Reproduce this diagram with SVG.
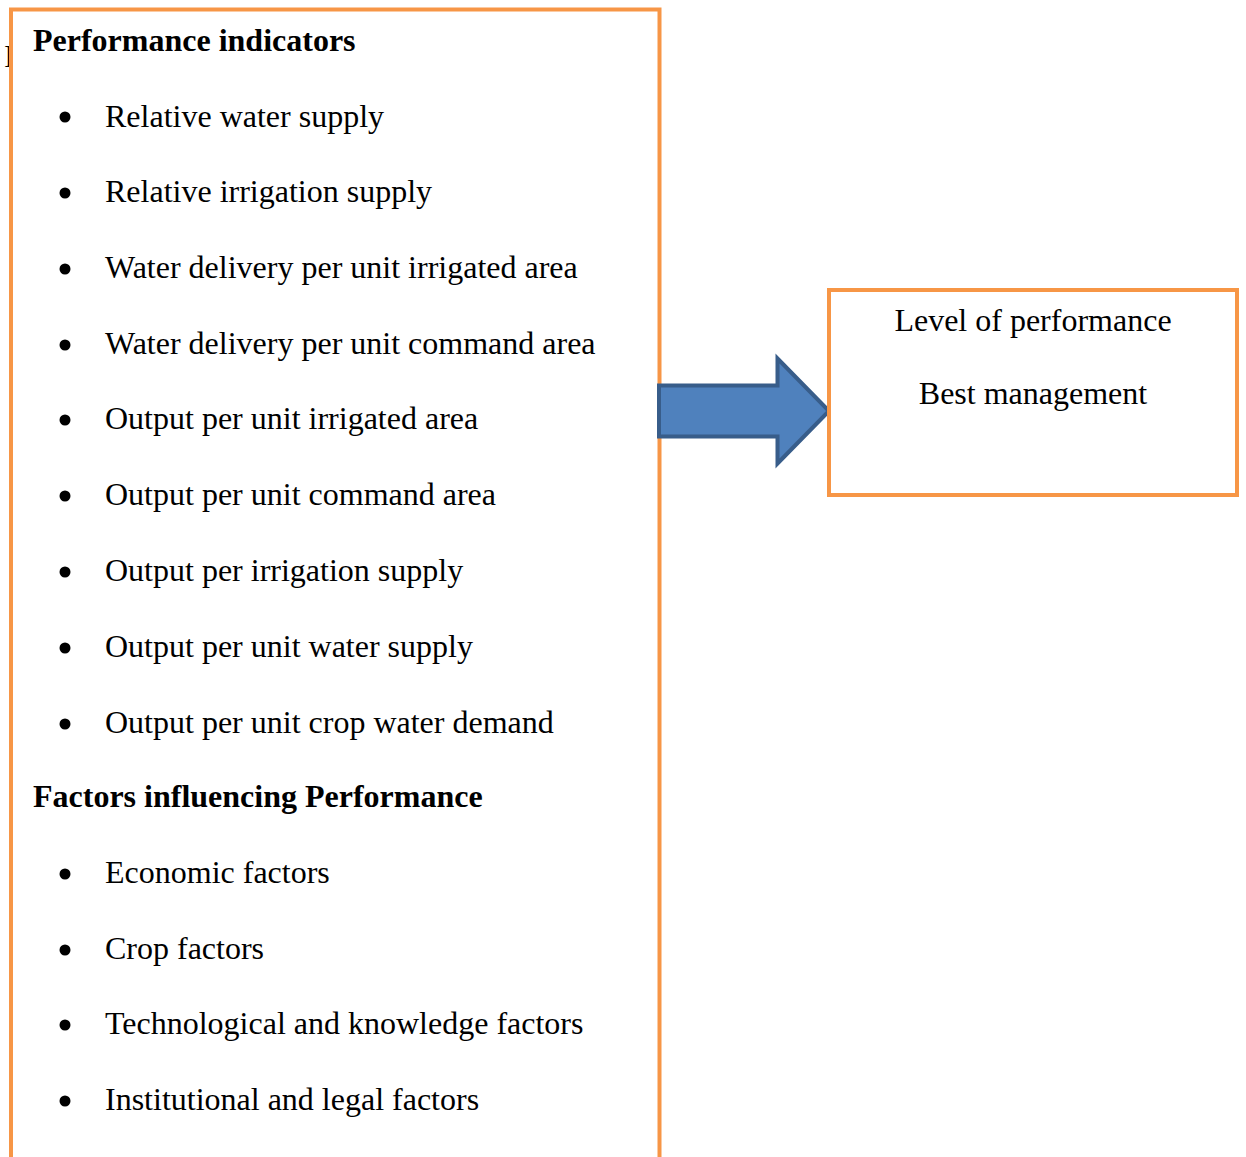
<svg xmlns="http://www.w3.org/2000/svg" width="1246" height="1157" viewBox="0 0 1246 1157">
  <style>
    .box { fill: #ffffff; stroke: #F79646; stroke-width: 4; }
    .txt { font-family: "Liberation Serif", "Times New Roman", serif; font-size: 32px; fill: #000000; }
    .head { font-weight: bold; }
    .bullet { fill: #000000; }
    .arrow { fill: #4F81BD; stroke: #385D8A; stroke-width: 4; stroke-linejoin: miter; }
  </style>
  <rect width="1246" height="1157" fill="#ffffff"/>

  <!-- stray glyph partly hidden behind the left panel -->
  <text class="txt" x="4" y="67">I</text>

  <!-- left panel: indicators and factors (runs off the bottom edge) -->
  <g id="indicators">
    <path class="box" d="M11,1170 V9.5 H659.5 V1170"/>
    <text class="txt head" x="33" y="51">Performance indicators</text>
    <g class="bullet">
      <circle cx="65" cy="117" r="5.5"/>
      <circle cx="65" cy="193" r="5.5"/>
      <circle cx="65" cy="269" r="5.5"/>
      <circle cx="65" cy="345" r="5.5"/>
      <circle cx="65" cy="420" r="5.5"/>
      <circle cx="65" cy="496" r="5.5"/>
      <circle cx="65" cy="572" r="5.5"/>
      <circle cx="65" cy="648" r="5.5"/>
      <circle cx="65" cy="724" r="5.5"/>
      <circle cx="65" cy="874" r="5.5"/>
      <circle cx="65" cy="950" r="5.5"/>
      <circle cx="65" cy="1025" r="5.5"/>
      <circle cx="65" cy="1101" r="5.5"/>
    </g>
    <text class="txt" x="105" y="127">Relative water supply</text>
    <text class="txt" x="105" y="202">Relative irrigation supply</text>
    <text class="txt" x="105" y="278">Water delivery per unit irrigated area</text>
    <text class="txt" x="105" y="354">Water delivery per unit command area</text>
    <text class="txt" x="105" y="429">Output per unit irrigated area</text>
    <text class="txt" x="105" y="505">Output per unit command area</text>
    <text class="txt" x="105" y="581">Output per irrigation supply</text>
    <text class="txt" x="105" y="657">Output per unit water supply</text>
    <text class="txt" x="105" y="733">Output per unit crop water demand</text>
    <text class="txt head" x="33" y="807">Factors influencing Performance</text>
    <text class="txt" x="105" y="883">Economic factors</text>
    <text class="txt" x="105" y="959">Crop factors</text>
    <text class="txt" x="105" y="1034">Technological and knowledge factors</text>
    <text class="txt" x="105" y="1110">Institutional and legal factors</text>
  </g>

  <!-- block arrow linking the panels -->
  <g id="connectors">
    <path class="arrow" d="M659,385.5 H777.5 V358.5 L829,411 L777.5,463.5 V436.5 H659 Z"/>
  </g>

  <!-- right panel: outcome -->
  <g id="outcome">
    <rect class="box" x="829" y="290" width="408" height="205"/>
    <text class="txt" x="1033" y="331" text-anchor="middle">Level of performance</text>
    <text class="txt" x="1033" y="404" text-anchor="middle">Best management</text>
  </g>
</svg>
